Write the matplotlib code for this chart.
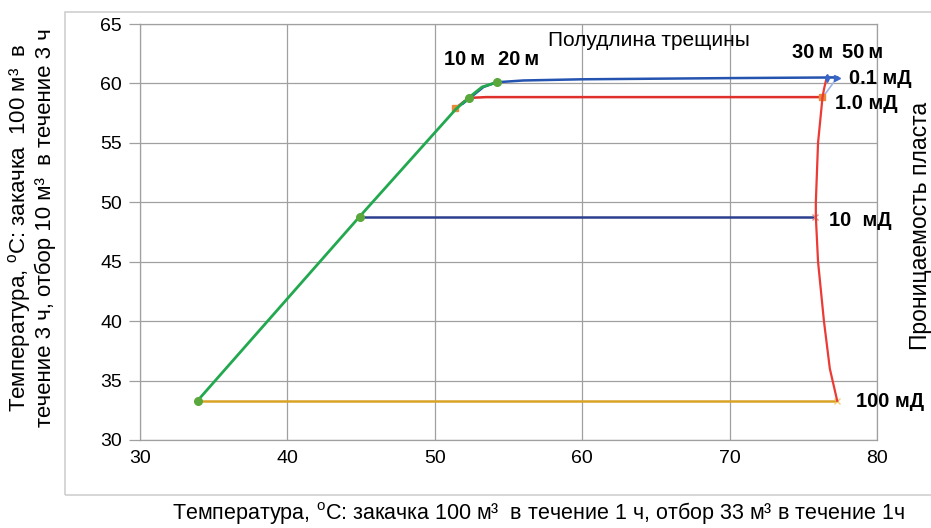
import matplotlib.pyplot as plt
from matplotlib.patches import Rectangle

plt.rcParams['font.family'] = ['Liberation Sans', 'DejaVu Sans']
plt.rcParams['mathtext.fontset'] = 'custom'
plt.rcParams['mathtext.rm'] = 'Liberation Sans'

# Температура на оси X (1 ч / 1 ч) и оси Y (3 ч / 3 ч)
# полудлина трещины 10 м - зелёная линия через все проницаемости
green_x = [33.9, 44.9, 51.4, 52.3, 53.2, 54.2]
green_y = [33.3, 48.8, 57.8, 58.8, 59.7, 60.1]

# проницаемость 0.1 мД
k01_x = [51.9, 52.6, 53.3, 54.2, 56.0, 60.0, 70.0, 76.6, 77.3]
k01_y = [58.3, 59.0, 59.7, 60.1, 60.25, 60.35, 60.45, 60.5, 60.5]

# проницаемость 1.0 мД
k1_x = [51.4, 52.0, 52.6, 53.5, 60.0, 70.0, 76.3]
k1_y = [57.9, 58.5, 58.8, 58.85, 58.85, 58.85, 58.85]

# проницаемость 10 мД
k10_x = [44.9, 60.0, 75.8]
k10_y = [48.8, 48.8, 48.8]

# проницаемость 100 мД
k100_x = [33.9, 60.0, 77.3]
k100_y = [33.3, 33.3, 33.3]

# полудлина 50 м - красная кривая по правым концам
red_x = [76.6, 76.4, 76.3, 76.0, 75.85, 75.85, 76.0, 76.4, 76.8, 77.3]
red_y = [60.6, 59.5, 58.8, 55.0, 50.0, 48.8, 45.0, 40.0, 36.0, 33.3]

# полудлина 30 м
lb_x = [76.6, 77.3, 76.3]
lb_y = [60.6, 60.5, 58.8]

length_labels = ['10\u2009м', '20\u2009м', '30\u2009м', '50\u2009м']
length_pos = [(52.0, 62.0), (55.7, 62.0), (75.6, 62.6), (79.0, 62.6)]
perm_labels = ['0.1 мД', '1.0 мД', '10  мД', '100 мД']
perm_pos = [(80.2, 60.45), (79.25, 58.3), (78.85, 48.45), (80.9, 33.2)]

fig = plt.figure(figsize=(9.31, 5.28), dpi=100)
ax = fig.add_axes([0.1504, 0.1667, 0.7916, 0.7878])

# рамка области диаграммы
fig.patches.append(Rectangle((65 / 931, 1 - 495 / 528), 1.0, (495 - 12) / 528,
                             transform=fig.transFigure, fill=False,
                             edgecolor='#d0d0d0', lw=1.2, clip_on=False))

ax.plot(k100_x, k100_y, color='#d9a326', lw=1.8)
ax.plot(k100_x[-1], k100_y[-1], marker='x', color='#f0d070', ms=5)
ax.plot(k10_x, k10_y, color='#2c3f8f', lw=1.8)
ax.plot(k10_x[-1], k10_y[-1], marker='x', color='#d09090', ms=5)
ax.plot(lb_x, lb_y, color='#9fb2e8', lw=1.2)
ax.plot(k1_x, k1_y, color='#e0302c', lw=1.8)
ax.plot(k1_x[0], k1_y[0], marker='s', color='#e88a3a', ms=5)
ax.plot(k1_x[-1], k1_y[-1], marker='s', color='#e88a3a', ms=5)
ax.plot(red_x, red_y, color='#ec3a35', lw=1.6)
ax.plot(k01_x, k01_y, color='#2553b0', lw=1.8)
ax.plot(k01_x[-1], k01_y[-1], marker='>', color='#3a66c8', ms=5)
ax.plot(k01_x[-2], k01_y[-2], marker='d', color='#3a66c8', ms=4)
ax.plot(green_x, green_y, color='#22a84f', lw=2.0)
ax.plot([green_x[0], green_x[1], green_x[3], green_x[5]],
        [green_y[0], green_y[1], green_y[3], green_y[5]],
        'o', color='#5aa83c', ms=5.5)

ax.set_xlim(30, 80)
ax.set_ylim(30, 65)
ax.set_xticks(range(30, 81, 10))
ax.set_yticks(range(30, 66, 5))
ax.grid(True, color='#a0a0a0', lw=0.9)
for s in ax.spines.values():
    s.set_color('#a0a0a0')
    s.set_linewidth(0.9)
ax.tick_params(axis='both', labelsize=14, color='#a0a0a0', length=8, width=0.9)
ax.tick_params(axis='y', pad=5)
ax.tick_params(axis='x', length=0, pad=7)

ax.text(64.5, 63.65, 'Полудлина трещины', fontsize=15, ha='center', va='center')
for lab, (x, y) in zip(length_labels, length_pos):
    ax.text(x, y, lab, fontsize=14.5, fontweight='bold', ha='center', va='center',
            clip_on=False)
for lab, (x, y) in zip(perm_labels, perm_pos):
    ax.text(x, y, lab, fontsize=14.5, fontweight='bold', ha='center', va='center',
            clip_on=False)

fig.text(31 / 931, 1 - 228 / 528,
         'Температура, $^{\\mathrm{o}}$C: закачка  100 м³  в\nтечение 3 ч, отбор 10 м³  в течение 3 ч',
         rotation=90, fontsize=16, ha='center', va='center', linespacing=1.05)
fig.text(538 / 931, 1 - 513 / 528,
         'Температура, $^{\\mathrm{o}}$C: закачка 100 м³  в течение 1 ч, отбор 33 м³ в течение 1ч',
         fontsize=15.5, ha='center', va='center')
fig.text(921 / 931, 1 - 226 / 528, 'Проницаемость пласта', rotation=90,
         fontsize=16.5, ha='center', va='center')

fig.savefig('out.png', dpi=100)
